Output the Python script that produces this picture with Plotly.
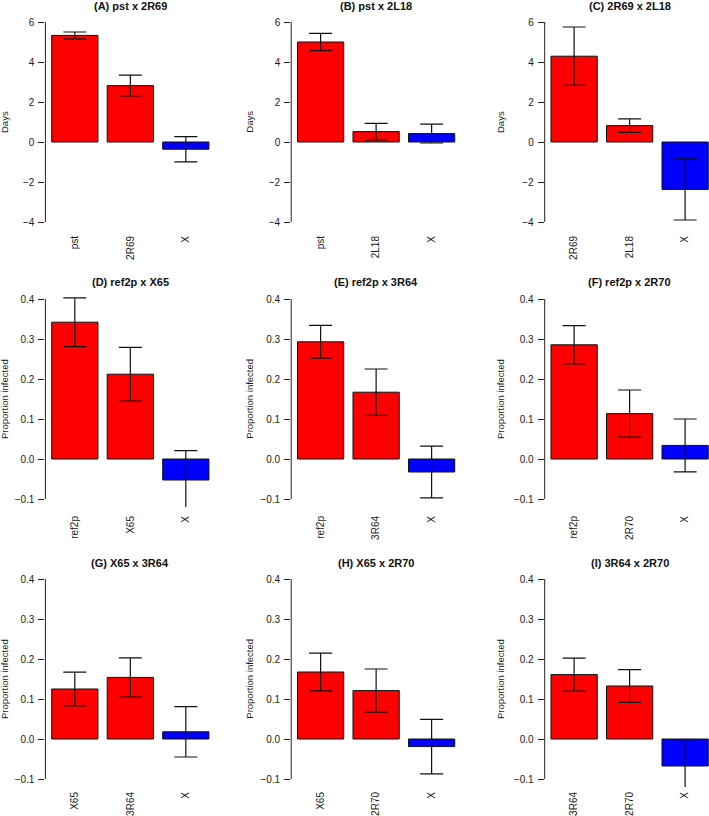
import plotly.graph_objects as go

W, H = 709, 816

titles = ["(A) pst x 2R69", "(B) pst x 2L18", "(C) 2R69 x 2L18",
          "(D) ref2p x X65", "(E) ref2p x 3R64", "(F) ref2p x 2R70",
          "(G) X65 x 3R64", "(H) X65 x 2R70", "(I) 3R64 x 2R70"]

labels = [["pst", "2R69", "X"], ["pst", "2L18", "X"], ["2R69", "2L18", "X"],
          ["ref2p", "X65", "X"], ["ref2p", "3R64", "X"], ["ref2p", "2R70", "X"],
          ["X65", "3R64", "X"], ["X65", "2R70", "X"], ["3R64", "2R70", "X"]]

means = [[5.33, 2.82, -0.36], [5.00, 0.52, 0.42], [4.29, 0.82, -2.37],
         [0.342, 0.212, -0.0525], [0.293, 0.167, -0.0325], [0.2855, 0.1135, 0.034],
         [0.125, 0.154, 0.018], [0.1675, 0.121, -0.019], [0.161, 0.1325, -0.0675]]

errs = [[0.17, 0.52, 0.63], [0.43, 0.41, 0.47], [1.46, 0.34, 1.53],
        [0.061, 0.067, 0.0735], [0.041, 0.058, 0.0645], [0.048, 0.059, 0.066],
        [0.042, 0.049, 0.063], [0.047, 0.054, 0.068], [0.041, 0.041, 0.0617]]

ytitles = ["Days"] * 3 + ["Proportion infected"] * 6

days_ticks = [-4, -2, 0, 2, 4, 6]
prop_ticks = [-0.1, 0.0, 0.1, 0.2, 0.3, 0.4]

bar_colors = ["#FF0000", "#FF0000", "#0000FF"]

# layout geometry (pixels)
col_left = [45.4, 291.2, 544.7]
col_width = 169.8
px_per_unit = 55.5
row_top = [14, 291, 571]
row_bot = [230, 507, 787]
title_y = [6, 281.7, 563]
ytitle_x = [4, 248.7, 500]
label_standoff = [3, 6, 2]

txt = "#1a1a1a"
font_family = "Liberation Sans, Arial, sans-serif"

fig = go.Figure()
layout = dict(width=W, height=H, margin=dict(l=0, r=0, t=0, b=0, pad=0),
              template="none",
              paper_bgcolor="white", plot_bgcolor="white", showlegend=False,
              font=dict(family=font_family, color=txt))
annotations = []
shapes = []

for i in range(9):
    r, c = divmod(i, 3)
    sfx = "" if i == 0 else str(i + 1)
    xa, ya = "x" + sfx, "y" + sfx
    fig.add_trace(go.Bar(
        x=labels[i], y=means[i], xaxis=xa, yaxis=ya,
        width=1 / 1.2,
        marker=dict(color=bar_colors, line=dict(color="#111111", width=1)),
        error_y=dict(type="data", array=errs[i], color="#111111",
                     thickness=1.2, width=11.5),
    ))
    x0 = col_left[c]
    x1 = min(x0 + col_width, W)
    xr0 = -0.53
    xr1 = xr0 + (x1 - x0) / px_per_unit
    if r == 0:
        ticks = days_ticks
        yr = [-4.4, 6.4]
        tf = "d"
    else:
        ticks = prop_ticks
        yr = [-0.12, 0.42]
        tf = ".1f"
    layout["xaxis" + sfx] = dict(
        domain=[x0 / W, x1 / W], anchor=ya, range=[xr0, xr1],
        type="category", showline=False, showgrid=False, zeroline=False,
        automargin=False,
        ticks="", tickangle=-90, tickfont=dict(size=10, color=txt),
        ticklabelstandoff=label_standoff[r], fixedrange=True)
    layout["yaxis" + sfx] = dict(
        domain=[1 - row_bot[r] / H, 1 - row_top[r] / H], anchor=xa,
        range=yr, showline=False, showgrid=False, zeroline=False,
        automargin=False,
        tickvals=ticks, tickformat=tf, ticks="outside", ticklen=6,
        tickcolor="#222222", tickwidth=1, tickfont=dict(size=10, color=txt),
        ticklabelstandoff=2, fixedrange=True)
    shapes.append(dict(type="line", xref=xa + " domain", yref=ya,
                       x0=0, x1=0, y0=ticks[0], y1=ticks[-1],
                       line=dict(color="#222222", width=1)))
    annotations.append(dict(
        text="<b>" + titles[i] + "</b>", xref="paper", yref="paper",
        x=(x0 + col_width / 2) / W, y=1 - title_y[r] / H,
        xanchor="center", yanchor="middle", showarrow=False,
        font=dict(size=11, color="#111111")))
    annotations.append(dict(
        text=ytitles[i], xref="paper", yref="paper",
        x=ytitle_x[c] / W, y=1 - (row_top[r] + row_bot[r]) / 2 / H,
        xanchor="center", yanchor="middle", textangle=-90, showarrow=False,
        font=dict(size=9.5, color=txt)))

layout["annotations"] = annotations
layout["shapes"] = shapes
fig.update_layout(**layout)
fig.write_html("out.html",
               config={"displayModeBar": False, "staticPlot": True},
               post_script="document.body.style.margin='0';"
                           "document.body.style.overflow='hidden';")
